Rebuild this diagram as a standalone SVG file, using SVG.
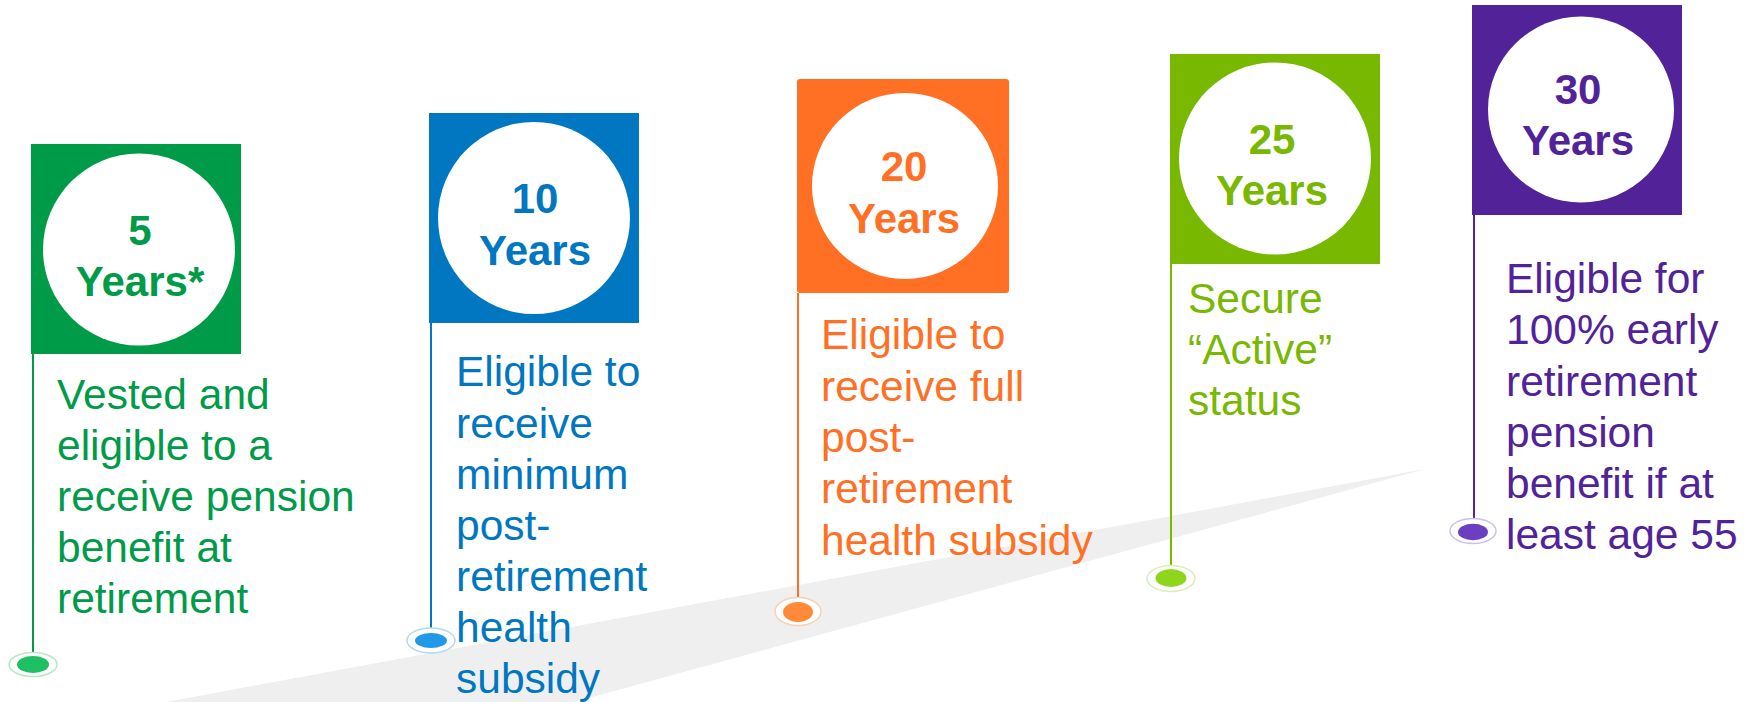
<svg xmlns="http://www.w3.org/2000/svg" width="1750" height="702" viewBox="0 0 1750 702">
  <style>
    .title { font-family: "Liberation Sans", Arial, sans-serif; font-weight: bold; font-size: 42px; text-anchor: middle; }
    .desc { font-family: "Liberation Sans", Arial, sans-serif; font-size: 42.5px; }
    .pole { stroke-width: 2; }
    .ring { fill: #ffffff; stroke-width: 1.5; }
    .c-green { fill: #009B48; } .s-green { stroke: #009B48; }
    .c-blue { fill: #0077C0; } .s-blue { stroke: #0077C0; }
    .c-orange { fill: #FF6F24; } .s-orange { stroke: #FF6F24; }
    .c-lime { fill: #78B800; } .s-lime { stroke: #78B800; }
    .c-purple { fill: #522398; } .s-purple { stroke: #522398; }
  </style>
  <rect width="1750" height="702" fill="#ffffff"/>

  <!-- road band rising to the right -->
  <polygon points="166,702 1425,469 574,702" fill="#efefef"/>

  <!-- flag poles and ground markers -->
  <g id="connectors">
    <line class="pole s-green" x1="33" y1="354" x2="33" y2="654"/>
    <ellipse class="ring" cx="33" cy="664.5" rx="24" ry="12" stroke="#b9e6cb"/>
    <ellipse cx="33" cy="664.5" rx="16" ry="8.5" fill="#1FBF64"/>

    <line class="pole s-blue" x1="431" y1="323" x2="431" y2="629"/>
    <ellipse class="ring" cx="431" cy="640.5" rx="24" ry="12.5" stroke="#b4d9f1"/>
    <ellipse cx="431" cy="640.5" rx="16" ry="7.5" fill="#2299E6"/>

    <line class="pole s-orange" x1="798" y1="293" x2="798" y2="598"/>
    <ellipse class="ring" cx="798" cy="611.5" rx="23" ry="14" stroke="#f4d2b8"/>
    <ellipse cx="798" cy="612" rx="15" ry="10" fill="#FF8B3A"/>

    <line class="pole s-lime" x1="1171" y1="264" x2="1171" y2="566"/>
    <ellipse class="ring" cx="1171" cy="578.5" rx="24" ry="13" stroke="#d8efb6"/>
    <ellipse cx="1171" cy="578" rx="15.5" ry="9" fill="#8ED61E"/>

    <line class="pole s-purple" x1="1474" y1="215" x2="1474" y2="519"/>
    <ellipse class="ring" cx="1473" cy="531" rx="23" ry="12.5" stroke="#cdbfe8"/>
    <ellipse cx="1473" cy="532" rx="15" ry="8.3" fill="#6B3FBF"/>
  </g>

  <g id="flag-5">
    <rect class="c-green" x="31" y="144" width="210" height="210"/>
    <circle cx="139" cy="249.5" r="96" fill="#ffffff"/>
    <text class="title c-green" x="140" y="245">5</text>
    <text class="title c-green" x="140" y="296">Years*</text>
    <text class="desc c-green">
      <tspan x="57" y="409">Vested and</tspan>
      <tspan x="57" y="460">eligible to a</tspan>
      <tspan x="57" y="511">receive pension</tspan>
      <tspan x="57" y="562">benefit at</tspan>
      <tspan x="57" y="613">retirement</tspan>
    </text>
  </g>

  <g id="flag-10">
    <rect class="c-blue" x="429" y="113" width="210" height="210"/>
    <circle cx="534" cy="218" r="96" fill="#ffffff"/>
    <text class="title c-blue" x="535" y="213">10</text>
    <text class="title c-blue" x="535" y="265">Years</text>
    <text class="desc c-blue">
      <tspan x="456" y="386">Eligible to</tspan>
      <tspan x="456" y="438">receive</tspan>
      <tspan x="456" y="489">minimum</tspan>
      <tspan x="456" y="540">post-</tspan>
      <tspan x="456" y="591">retirement</tspan>
      <tspan x="456" y="642">health</tspan>
      <tspan x="456" y="693">subsidy</tspan>
    </text>
  </g>

  <g id="flag-20">
    <rect class="c-orange" x="797" y="79" width="212" height="214" rx="3"/>
    <circle cx="905" cy="186" r="93" fill="#ffffff"/>
    <text class="title c-orange" x="904" y="181">20</text>
    <text class="title c-orange" x="904" y="233">Years</text>
    <text class="desc c-orange">
      <tspan x="821" y="349">Eligible to</tspan>
      <tspan x="821" y="401">receive full</tspan>
      <tspan x="821" y="452">post-</tspan>
      <tspan x="821" y="503">retirement</tspan>
      <tspan x="821" y="555">health subsidy</tspan>
    </text>
  </g>

  <g id="flag-25">
    <rect class="c-lime" x="1170" y="54" width="210" height="210"/>
    <circle cx="1275" cy="158.5" r="96" fill="#ffffff"/>
    <text class="title c-lime" x="1272" y="154">25</text>
    <text class="title c-lime" x="1272" y="205">Years</text>
    <text class="desc c-lime">
      <tspan x="1188" y="313">Secure</tspan>
      <tspan x="1188" y="364">“Active”</tspan>
      <tspan x="1188" y="415">status</tspan>
    </text>
  </g>

  <g id="flag-30">
    <rect class="c-purple" x="1472" y="5" width="210" height="210"/>
    <circle cx="1581" cy="109.5" r="93" fill="#ffffff"/>
    <text class="title c-purple" x="1578" y="104">30</text>
    <text class="title c-purple" x="1578" y="155">Years</text>
    <text class="desc c-purple">
      <tspan x="1506" y="293">Eligible for</tspan>
      <tspan x="1506" y="344">100% early</tspan>
      <tspan x="1506" y="396">retirement</tspan>
      <tspan x="1506" y="447">pension</tspan>
      <tspan x="1506" y="498">benefit if at</tspan>
      <tspan x="1506" y="549">least age 55</tspan>
    </text>
  </g>
</svg>
